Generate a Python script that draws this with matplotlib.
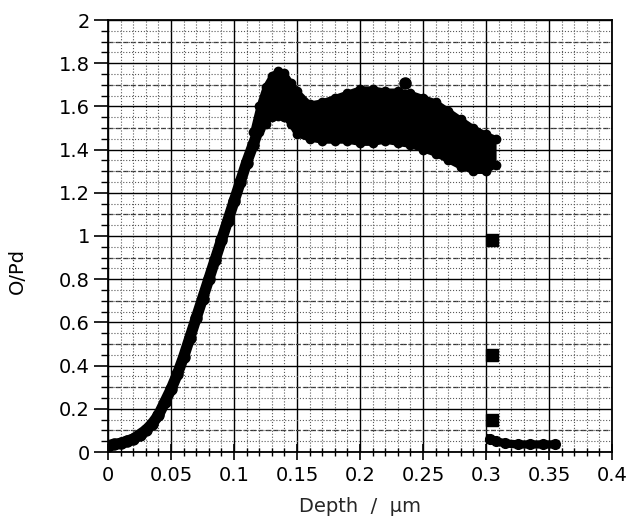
import numpy as np
import matplotlib
matplotlib.use('Agg')
import matplotlib.pyplot as plt
import matplotlib.ticker as mtick

plt.rcParams['font.family'] = ['DejaVu Sans']

# rising part of the profile (centre of the point cloud)
rise_x = [0.000, 0.005, 0.010, 0.015, 0.020, 0.025, 0.030, 0.035, 0.040, 0.045,
          0.050, 0.055, 0.060, 0.065, 0.070, 0.075, 0.080, 0.085, 0.090, 0.095,
          0.100, 0.105, 0.110, 0.115, 0.120]
rise_y = [0.03, 0.035, 0.04, 0.05, 0.06, 0.08, 0.10, 0.13, 0.17, 0.23,
          0.29, 0.36, 0.44, 0.53, 0.62, 0.71, 0.80, 0.89, 0.98, 1.07,
          1.16, 1.25, 1.34, 1.42, 1.50]

# plateau band (upper / lower edge of the scattered points)
band_x = [0.115, 0.120, 0.125, 0.130, 0.135, 0.140, 0.145, 0.150, 0.160, 0.170,
          0.180, 0.190, 0.200, 0.210, 0.220, 0.230, 0.240, 0.250, 0.260, 0.270,
          0.280, 0.290, 0.300, 0.308]
band_top = [1.48, 1.60, 1.69, 1.74, 1.765, 1.755, 1.71, 1.67, 1.61, 1.62,
            1.64, 1.66, 1.68, 1.68, 1.67, 1.67, 1.66, 1.64, 1.62, 1.58,
            1.54, 1.50, 1.47, 1.45]
band_bottom = [1.42, 1.48, 1.52, 1.55, 1.555, 1.55, 1.52, 1.47, 1.45, 1.44,
               1.44, 1.44, 1.43, 1.43, 1.44, 1.43, 1.42, 1.40, 1.38, 1.35,
               1.32, 1.30, 1.30, 1.33]

outlier_x = [0.236]
outlier_y = [1.71]

# points after the drop at the interface
drop_x = [0.305, 0.305, 0.305]
drop_y = [0.98, 0.45, 0.15]
tail_x = [0.303, 0.308, 0.315, 0.325, 0.335, 0.345, 0.355]
tail_y = [0.06, 0.05, 0.04, 0.035, 0.035, 0.035, 0.035]

fig = plt.figure(figsize=(6.33, 5.21), dpi=100)
ax = fig.add_axes([108/633, 1 - 452/521, 504/633, 432/521])

ax.set_xlim(0, 0.4)
ax.set_ylim(0, 2)

# graph-paper style grid
ax.xaxis.set_major_locator(mtick.MultipleLocator(0.05))
ax.xaxis.set_minor_locator(mtick.MultipleLocator(0.01))
ax.yaxis.set_major_locator(mtick.MultipleLocator(0.2))
ax.yaxis.set_minor_locator(mtick.MultipleLocator(0.05))
ax.xaxis.set_major_formatter(mtick.FormatStrFormatter('%g'))
ax.yaxis.set_major_formatter(mtick.FormatStrFormatter('%g'))
ax.grid(which='major', color='k', lw=1.0, ls='-')
ax.grid(which='minor', color='0.35', lw=0.8, ls=':')
for yy in np.arange(0.1, 2.0, 0.2):
    ax.axhline(yy, color='0.2', lw=0.9, ls=(0, (4, 2)), zorder=0.5)
ax.set_axisbelow(True)

# data
ax.plot(rise_x, rise_y, '-o', color='k', lw=8, ms=8, solid_capstyle='round', zorder=3)
ax.fill_between(band_x, band_bottom, band_top, color='k', lw=0, zorder=3)
ax.plot(band_x, band_top, '-o', color='k', lw=4, ms=6, zorder=3)
ax.plot(band_x, band_bottom, '-o', color='k', lw=4, ms=6, zorder=3)
ax.plot(outlier_x, outlier_y, 'o', color='k', ms=8, zorder=3)
ax.plot(drop_x, drop_y, 's', color='k', ms=8, zorder=3)
ax.plot(tail_x, tail_y, '-o', color='k', lw=6, ms=7, zorder=3)

for s in ax.spines.values():
    s.set_linewidth(1.3)

ax.tick_params(axis='x', which='major', direction='inout', length=12, width=1.2, pad=4, labelsize=14)
ax.tick_params(axis='x', which='minor', direction='inout', length=6, width=1.0)
ax.tick_params(axis='y', which='major', direction='out', length=10, width=1.2, pad=3, labelsize=14)
ax.tick_params(axis='y', which='minor', direction='out', length=5, width=1.0)

ax.set_xlabel('Depth  /  µm', fontsize=14, color='0.15')
ax.set_ylabel('O/Pd', fontsize=14)
ax.yaxis.set_label_coords(-0.16, 0.42)
ax.xaxis.set_label_coords(0.5, -0.105)

fig.savefig('out.png', dpi=100)
